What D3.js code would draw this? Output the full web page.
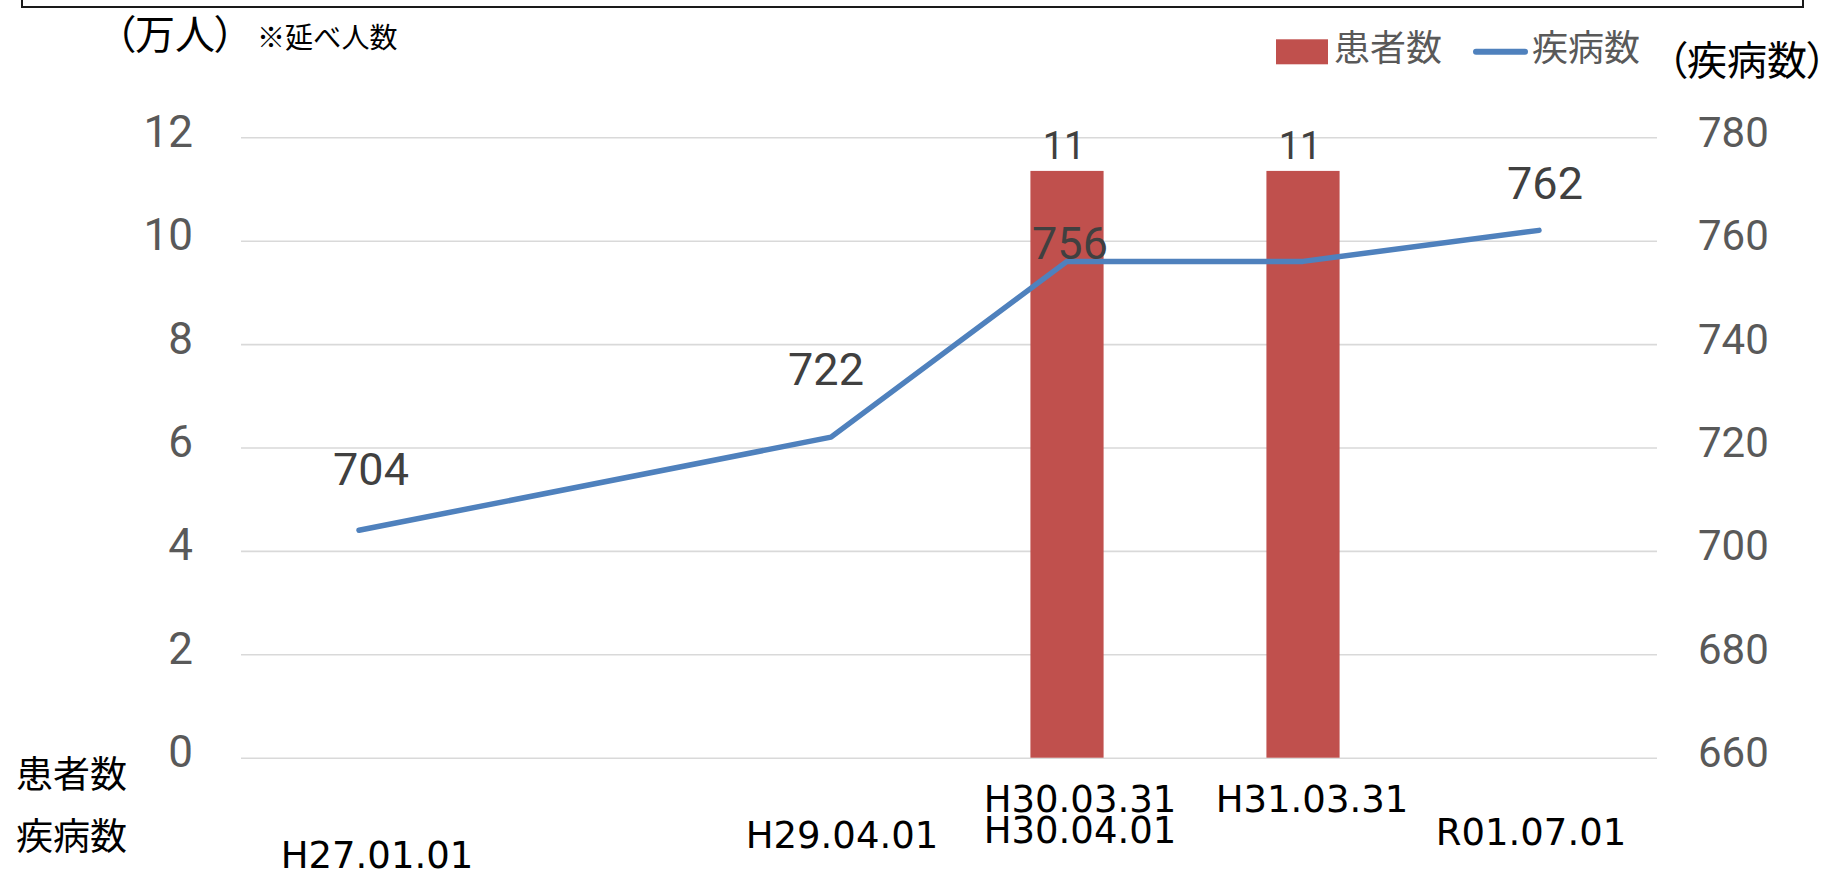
<!DOCTYPE html>
<html>
<head>
<meta charset="utf-8">
<script src="https://cdn.jsdelivr.net/npm/d3@7"></script>
<style>
  html, body { margin: 0; padding: 0; background: #fff; }
  svg { display: block; }
  .cjk { font-family: "Noto Sans CJK JP", "Noto Sans CJK SC", sans-serif; font-feature-settings: "palt"; }
  .num { font-family: Roboto, "Noto Sans", sans-serif; }
  .xl { font-family: "DejaVu Sans", Verdana, sans-serif; }
</style>
</head>
<body>
<svg id="chart" width="1829" height="870"></svg>
<script>
// ---- data ----
const categoryLabels = [["H27.01.01"], [], ["H29.04.01"], ["H30.03.31", "H30.04.01"], ["H31.03.31"], ["R01.07.01"]];
const patients = [null, null, null, 11.35, 11.35, null];   // 患者数（万人）
const diseases = [704, null, 722, 756, 756, 762];          // 疾病数
const leftTicks = [0, 2, 4, 6, 8, 10, 12];
const rightTicks = [660, 680, 700, 720, 740, 760, 780];
const seriesNames = ["患者数", "疾病数"];
const leftUnit = "（万人）";
const leftNote = "※延べ人数";
const rightUnit = "（疾病数）";

// ---- layout ----
const W = 1829, H = 870;
const plot = { left: 241, right: 1657, top: 137.3, bottom: 757.7 };
const colors = { bar: "#C0504D", line: "#4F81BD", grid: "#D9D9D9", tick: "#595959", label: "#404040" };
// manual label placements (offsets from the point) as in the original
const lineLabelOffset = [[12, -45], null, [-5, -52], [3, -2], null, [6, -31]];
const xLabelBaseline = [868, null, 848, 812, 812, 845];
const xLabelDx = [18, 0, 11, 13, 9, -8];
const xLabelLineGap = 31;

const svg = d3.select("#chart");
svg.append("rect").attr("width", W).attr("height", H).attr("fill", "#fff");

// outer frame (only its lower part is visible)
svg.append("rect").attr("x", 22).attr("y", -20).attr("width", 1781).attr("height", 27)
  .attr("fill", "none").attr("stroke", "#1a1a1a").attr("stroke-width", 2);

const idx = d3.range(categoryLabels.length);
const x = d3.scaleBand().domain(idx).range([plot.left, plot.right]).paddingInner(0).paddingOuter(0);
const yL = d3.scaleLinear().domain([0, 12]).range([plot.bottom, plot.top]);
const yR = d3.scaleLinear().domain([660, 780]).range([plot.bottom, plot.top]);
const cx = i => x(i) + x.bandwidth() / 2;

// left axis with gridlines
const gL = svg.append("g").attr("transform", `translate(${plot.left},0)`)
  .call(d3.axisLeft(yL).tickValues(leftTicks).tickSize(-(plot.right - plot.left)).tickPadding(48));
gL.select(".domain").remove();
gL.selectAll(".tick line").attr("stroke", colors.grid).attr("stroke-width", 1.6);
gL.selectAll(".tick text").attr("fill", colors.tick)
  .attr("font-size", 44).attr("dy", 9).style("font-family", "Roboto, 'Noto Sans', sans-serif");

// right axis
const gR = svg.append("g").attr("transform", `translate(${plot.right},0)`)
  .call(d3.axisRight(yR).tickValues(rightTicks).tickSize(0).tickPadding(41));
gR.select(".domain").remove();
gR.selectAll(".tick text").attr("fill", colors.tick)
  .attr("font-size", 42).attr("dy", 9).style("font-family", "Roboto, 'Noto Sans', sans-serif");

// bars
const barW = x.bandwidth() * 0.31;
const barData = idx.filter(i => patients[i] != null);
svg.append("g").selectAll("rect").data(barData).join("rect")
  .attr("x", i => cx(i) - barW / 2)
  .attr("y", i => yL(patients[i]))
  .attr("width", barW)
  .attr("height", i => yL(0) - yL(patients[i]))
  .attr("fill", colors.bar);

// bar labels
svg.append("g").selectAll("text").data(barData).join("text")
  .attr("class", "num")
  .attr("x", i => cx(i) - 3)
  .attr("y", i => yL(patients[i]) - 11.7)
  .attr("text-anchor", "middle")
  .attr("font-size", 38)
  .attr("fill", colors.label)
  .text(i => d3.format(".0f")(patients[i]));

// line
const lineData = idx.filter(i => diseases[i] != null);
svg.append("path")
  .datum(lineData)
  .attr("fill", "none")
  .attr("stroke", colors.line)
  .attr("stroke-width", 5.5)
  .attr("stroke-linejoin", "round")
  .attr("stroke-linecap", "round")
  .attr("d", d3.line().x(i => cx(i)).y(i => yR(diseases[i])));

// line labels (the repeated 756 has no label in the original)
const labelData = lineData.filter(i => lineLabelOffset[i] != null);
svg.append("g").selectAll("text").data(labelData).join("text")
  .attr("class", "num")
  .attr("x", i => cx(i) + lineLabelOffset[i][0])
  .attr("y", i => yR(diseases[i]) + lineLabelOffset[i][1])
  .attr("text-anchor", "middle")
  .attr("font-size", 45)
  .attr("fill", colors.label)
  .text(i => diseases[i]);

// x category labels
idx.forEach(i => {
  const lines = categoryLabels[i];
  if (!lines.length) return;
  const t = svg.append("text").attr("class", "xl").attr("text-anchor", "middle")
    .attr("font-size", 37).attr("fill", "#000");
  lines.forEach((s, k) => {
    t.append("tspan").attr("x", cx(i) + xLabelDx[i])
      .attr("y", xLabelBaseline[i] + k * xLabelLineGap).text(s);
  });
});

// row labels
svg.append("text").attr("class", "cjk").attr("x", 16).attr("y", 772).attr("dominant-baseline", "central")
  .attr("font-size", 37).attr("fill", "#000").text(seriesNames[0]);
svg.append("text").attr("class", "cjk").attr("x", 16).attr("y", 834).attr("dominant-baseline", "central")
  .attr("font-size", 37).attr("fill", "#000").text(seriesNames[1]);

// unit titles
svg.append("text").attr("class", "cjk").attr("x", 115).attr("y", 32).attr("dominant-baseline", "central")
  .attr("font-size", 40).attr("fill", "#000").text(leftUnit);
svg.append("text").attr("class", "cjk").attr("x", 257).attr("y", 36).attr("dominant-baseline", "central")
  .attr("font-size", 28).attr("fill", "#000").text(leftNote);
svg.append("text").attr("class", "cjk").attr("x", 1667).attr("y", 58).attr("dominant-baseline", "central")
  .attr("font-size", 40).attr("fill", "#000").text(rightUnit);

// legend
const lg = svg.append("g");
lg.append("rect").attr("x", 1276).attr("y", 39.3).attr("width", 52).attr("height", 25).attr("fill", colors.bar);
lg.append("text").attr("class", "cjk").attr("x", 1334).attr("y", 45).attr("dominant-baseline", "central")
  .attr("font-size", 36).attr("fill", colors.tick).text(seriesNames[0]);
lg.append("line").attr("x1", 1476).attr("x2", 1525).attr("y1", 51.7).attr("y2", 51.7)
  .attr("stroke", colors.line).attr("stroke-width", 6).attr("stroke-linecap", "round");
lg.append("text").attr("class", "cjk").attr("x", 1532).attr("y", 45).attr("dominant-baseline", "central")
  .attr("font-size", 36).attr("fill", colors.tick).text(seriesNames[1]);
</script>
</body>
</html>
